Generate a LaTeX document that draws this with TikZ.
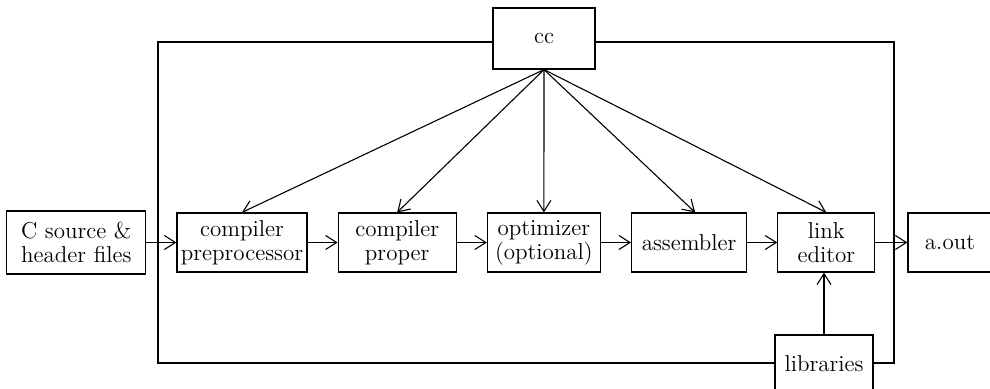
\documentclass[tikz,border=0pt]{standalone}
\usetikzlibrary{positioning,arrows.meta}

\begin{document}
\begin{tikzpicture}[
  x=0.5pt, y=-0.5pt,
  font=\fontsize{11.5}{12}\selectfont,
  node distance=15pt,
  box/.style={draw, line width=0.6pt, align=center, minimum height=29.5pt,
              inner sep=1pt},
  arr/.style={-{Straight Barb[length=5.5pt,width=7pt]}, line width=0.55pt},
  frame/.style={line width=0.55pt}
]
\useasboundingbox (0,0) rectangle (990,389);

% ---------------- main row ----------------
\node[box, minimum width=65pt] (cpp) at (242,242.5) {compiler\\ preprocessor};
\node[box, minimum width=69.5pt, minimum height=31.5pt, left=of cpp] (src)
  {C source \&\\ header files};
\node[box, minimum width=59pt, right=of cpp] (ccom) {compiler\\ proper};
\node[box, minimum width=56.5pt, right=of ccom] (opt) {optimizer\\ (optional)};
\node[box, minimum width=57.5pt, right=of opt] (asm) {assembler};
\node[box, minimum width=48.5pt, right=of asm] (ld) {link\\ editor};
\node[box, minimum width=42pt, right=16pt of ld] (aout) {a.out};

% ---------------- driver and libraries ----------------
\node[box, minimum width=51pt, minimum height=30.5pt] (cc) at (544,38.5) {cc};
\node[box, minimum width=49pt, minimum height=29pt] (lib) at (824,364) {libraries};

% ---------------- frame ----------------
\coordinate (tl) at (158,42);
\coordinate (tr) at (894,42);
\coordinate (bl) at (158,363);
\coordinate (br) at (894,363);
\draw[frame] (cc.west |- tl) -- (tl) -- (bl) -- (lib.west |- bl);
\draw[frame] (cc.east |- tr) -- (tr) -- (br) -- (lib.east |- br);

% ---------------- arrows ----------------
\draw[arr] (src) -- (cpp);
\draw[arr] (cpp) -- (ccom);
\draw[arr] (ccom) -- (opt);
\draw[arr] (opt) -- (asm);
\draw[arr] (asm) -- (ld);
\draw[arr] (ld) -- (aout);
\draw[arr] (lib.north) -- (lib.north |- ld.south);
\draw[arr] (cc.south) -- (cpp.north);
\draw[arr] (cc.south) -- (ccom.north);
\draw[arr] (cc.south) -- (opt.north);
\draw[arr] (cc.south) -- ([xshift=3pt]asm.north);
\draw[arr] (cc.south) -- (ld.north);

\end{tikzpicture}
\end{document}
